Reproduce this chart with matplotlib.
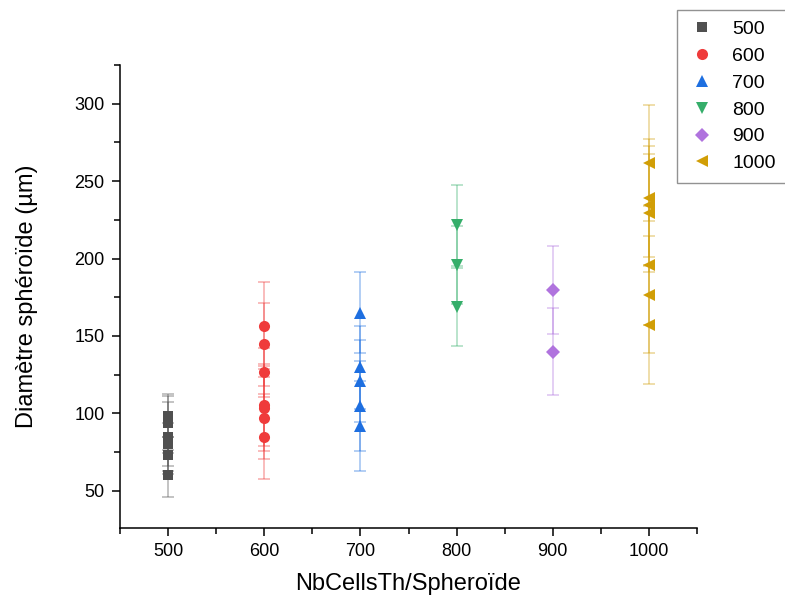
import matplotlib
matplotlib.use("Agg")
import matplotlib.pyplot as plt
from matplotlib.ticker import MultipleLocator
from matplotlib.colors import to_rgba

plt.rcParams['font.family'] = ['Liberation Sans', 'DejaVu Sans']

# Data
groups = ["500", "600", "700", "800", "900", "1000"]
x_500 = 500
y_500 = [98.5, 94, 85, 80, 73, 60]
e_500 = [14, 17.4, 22.5, 14, 12, 14.3]
x_600 = 600
y_600 = [156.5, 144.7, 126.5, 105.4, 103.3, 96.8, 85]
e_600 = [28.1, 26.7, 15.7, 26.4, 27.5, 26.4, 27.3]
x_700 = 700
y_700 = [165.1, 129.7, 121, 105, 92]
e_700 = [26.2, 26.8, 26.3, 29, 29]
x_800 = 800
y_800 = [221.4, 195.9, 168.8]
e_800 = [26, 25, 25]
x_900 = 900
y_900 = [179.5, 139.8]
e_900 = [28.5, 28]
x_1000 = 1000
y_1000 = [261.8, 239.2, 234.3, 229.3, 195.6, 176.7, 157]
e_1000 = [37.6, 38, 38.3, 38.3, 38.6, 37.7, 38]

xs = [x_500, x_600, x_700, x_800, x_900, x_1000]
ys = [y_500, y_600, y_700, y_800, y_900, y_1000]
es = [e_500, e_600, e_700, e_800, e_900, e_1000]

colors = ["#505050", "#EF3B3B", "#1E6FE0", "#35AE6A", "#B073DE", "#D19E06"]
markers = ["s", "o", "^", "v", "D", "<"]
msizes = [7.5, 8, 8.5, 8.5, 7, 8.5]

fig = plt.figure(figsize=(7.85, 6.03), dpi=100)
ax = fig.add_axes([120/785, 75/603, (697-120)/785, (528-65)/603])

handles = []
for g, x, y, e, c, m, ms in zip(groups, xs, ys, es, colors, markers, msizes):
    xv = [x] * len(y)
    ax.errorbar(xv, y, yerr=e, fmt='none', ecolor=to_rgba(c, 0.4),
                elinewidth=1.2, capsize=4.5, capthick=1.2, zorder=2)
    h = ax.plot(xv, y, linestyle='none', marker=m, markersize=ms,
                color=c, markeredgewidth=0, label=g, zorder=3)[0]
    handles.append(h)

ax.set_xlim(450, 1050)
ax.set_ylim(26, 325)
ax.set_xticks([500, 600, 700, 800, 900, 1000])
ax.set_yticks([50, 100, 150, 200, 250, 300])
ax.xaxis.set_minor_locator(MultipleLocator(50))
ax.yaxis.set_minor_locator(MultipleLocator(25))
ax.tick_params(axis='both', which='major', direction='out', length=6, width=1.1,
               labelsize=13, pad=5)
ax.tick_params(axis='both', which='minor', direction='out', length=4, width=1.1)
for s in ['top', 'right']:
    ax.spines[s].set_visible(False)
for s in ['left', 'bottom']:
    ax.spines[s].set_linewidth(1.1)

ax.set_xlabel("NbCellsTh/Spheroïde", fontsize=17, labelpad=9)
ax.set_ylabel("Diamètre sphéroïde (µm)", fontsize=17, labelpad=26)

leg = fig.legend(handles=handles, loc='upper left',
                 bbox_to_anchor=(677/785, 1 - 10/603), borderaxespad=0,
                 fontsize=14, frameon=True, fancybox=False, edgecolor='#777777',
                 handlelength=1.5, handletextpad=0.8, labelspacing=0.47,
                 borderpad=0.55, markerscale=1.0)
leg.get_frame().set_linewidth(1.0)

fig.savefig("out.png", dpi=100)
